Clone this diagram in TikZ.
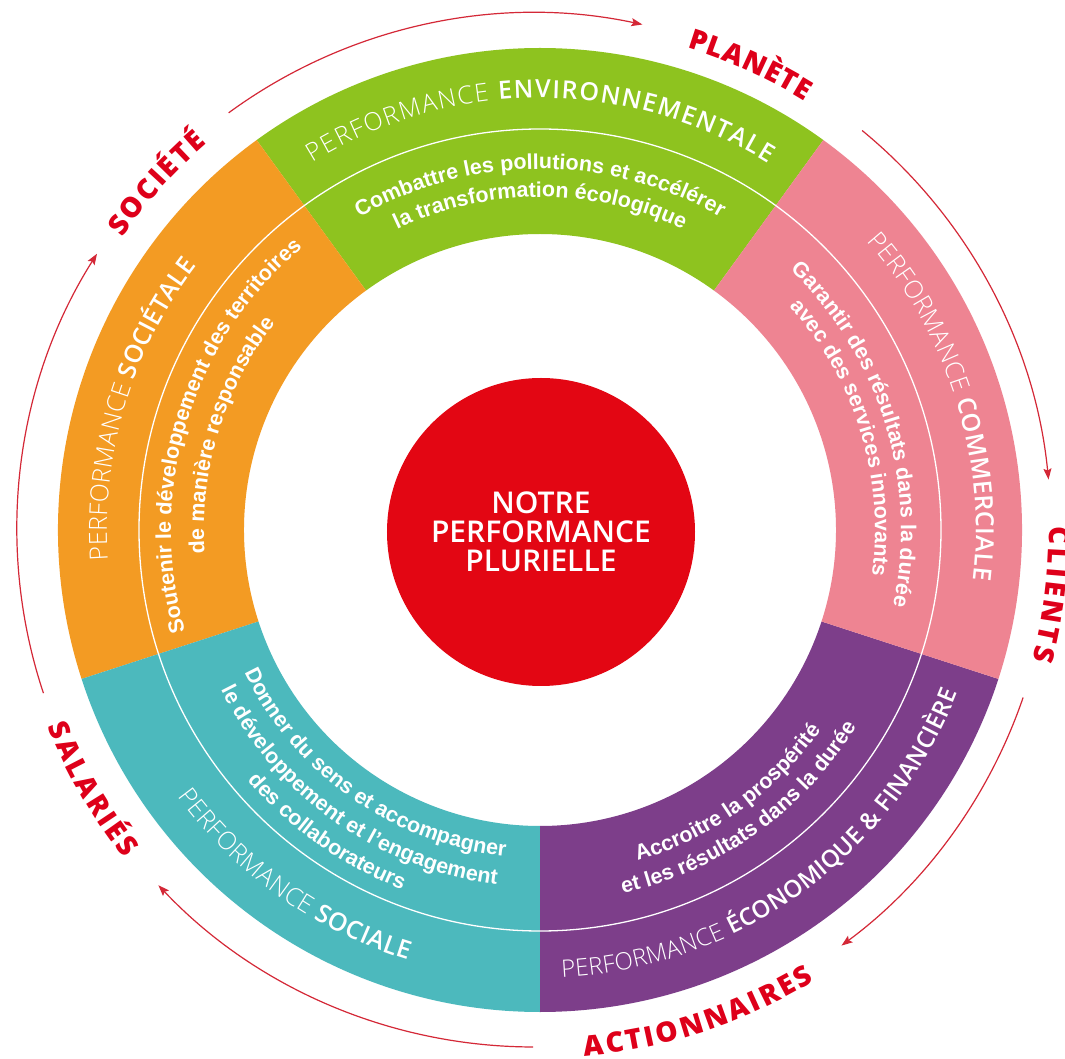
\documentclass[tikz,border=0pt]{standalone}
\usepackage{fontspec}
\setmainfont{Liberation Sans}
\newfontfamily\lightf{Open Sans Light}
\newfontfamily\semif{Open Sans Semibold}
\newfontfamily\labf{Open Sans Extrabold}
\usetikzlibrary{decorations.text,arrows.meta}
\definecolor{segGreen}{RGB}{142,195,31}
\definecolor{segOrange}{RGB}{243,155,35}
\definecolor{segPink}{RGB}{238,132,146}
\definecolor{segPurple}{RGB}{125,62,138}
\definecolor{segTeal}{RGB}{76,185,189}
\definecolor{coreRed}{RGB}{227,6,19}
\definecolor{labRed}{RGB}{222,0,26}
\definecolor{arrRed}{RGB}{212,40,55}
\newcommand\TL{\color{white}\lightf\fontsize{25}{25}\selectfont}
\newcommand\TB{\color{white}\semif\fontsize{25}{25}\selectfont}
\newcommand\TLs{\color{white}\lightf\fontsize{24}{24}\selectfont}
\newcommand\TBs{\color{white}\semif\fontsize{24}{24}\selectfont}
\newcommand\DS{\color{white}\bfseries\fontsize{21.5}{21.5}\selectfont}
\newcommand\LB{\color{labRed}\labf\fontsize{28}{28}\selectfont}
\newcommand\ringsector[3]{\fill[#1] (#2:482pt) arc[start angle=#2,end angle=#3,radius=482pt] -- (#3:296pt) arc[start angle=#3,end angle=#2,radius=296pt] -- cycle;}
\newcommand\arctext[5]{\path[decorate,decoration={text along path,text align={#4},text={#5}}] (#2:#1pt) arc[start angle=#2,end angle=#3,radius=#1pt];}
\tikzset{
  flowarc/.style={draw=arrRed, line width=1.2pt, -{Stealth[length=11pt,width=8pt,inset=2pt]}},
  corenode/.style={circle, fill=coreRed, minimum size=308pt, inner sep=0pt, text=white, align=center, font={\semif\fontsize{30}{29}\selectfont}},
  midline/.style={draw=white, line width=1.3pt}
}
\begin{document}
\begin{tikzpicture}[x=1pt,y=1pt]
\useasboundingbox (-540,-529) rectangle (525,530);
\fill[white] (-540,-529) rectangle (525,530);
% ring segments
\ringsector{segGreen}{54}{126}
\ringsector{segOrange}{126}{198}
\ringsector{segTeal}{198}{270}
\ringsector{segPurple}{270}{342}
\ringsector{segPink}{342}{414}
\draw[midline] (0,0) circle[radius=401pt];
% titles
\arctext{432}{121.7}{58.1}{fit to path}{|\TL|PERFORMANCE |\TB|ENVIRONNEMENTALE}
\arctext{433}{184}{142.4}{fit to path}{|\TL|PERFORMANCE |\TB|SOCIÉTALE}
\arctext{436}{41.5}{-6.6}{fit to path}{|\TL|PERFORMANCE |\TB|COMMERCIALE}
\arctext{448}{-87.2}{-21.3}{fit to path}{|\TLs|PERFORMANCE |\TBs|ÉCONOMIQUE {\&} FINANCIÈRE}
\arctext{450}{216.3}{252.9}{fit to path}{|\TL|PERFORMANCE |\TB|SOCIALE}
% descriptions
\arctext{361}{126}{54}{center}{|\DS|Combattre les pollutions et accélérer}
\arctext{333}{126}{54}{center}{|\DS|la transformation écologique}
\arctext{369}{199}{127}{center}{|\DS|Soutenir le développement des territoires}
\arctext{336}{199}{127}{center}{|\DS|de manière responsable}
\arctext{361}{53}{-19}{center}{|\DS|Garantir des résultats dans la durée}
\arctext{335}{53}{-19}{center}{|\DS|avec des services innovants}
\arctext{345}{-90.5}{-18.5}{center}{|\DS|Accroitre la prospérité}
\arctext{373}{-90.5}{-18.5}{center}{|\DS|et les résultats dans la durée}
\arctext{328}{198.8}{270.8}{center}{|\DS|Donner du sens et accompagner}
\arctext{357}{198.8}{270.8}{center}{|\DS|le développement et l’engagement}
\arctext{385}{198.8}{270.8}{center}{|\DS|des collaborateurs}
% centre
\node[corenode] (core) at (1,-2) {NOTRE\\PERFORMANCE\\PLURIELLE};
% outer labels
\arctext{510}{145}{130.7}{fit to path}{|\LB|SOCIÉTÉ}
\arctext{504}{73}{58.3}{fit to path}{|\LB|PLANÈTE}
\arctext{509}{0.4}{-14.8}{fit to path}{|\LB|CLIENTS}
\arctext{528}{-85.2}{-58.7}{fit to path}{|\LB|ACTIONNAIRES}
\arctext{530}{201.8}{218.3}{fit to path}{|\LB|SALARIÉS}
% outer arrows
\begin{scope}[shift={(-6,0)}]
\coordinate (a1) at (126.2:517pt);
\coordinate (a2) at (50.6:517pt);
\coordinate (a3) at (-18.9:517pt);
\coordinate (a4) at (-90.1:517pt);
\coordinate (a5) at (198.4:517pt);
\draw[flowarc] (a1) arc[start angle=126.2,end angle=77.9,radius=517pt];
\draw[flowarc] (a2) arc[start angle=50.6,end angle=5.6,radius=517pt];
\draw[flowarc] (a3) arc[start angle=-18.9,end angle=-53.5,radius=517pt];
\draw[flowarc] (a4) arc[start angle=-90.1,end angle=-136.6,radius=517pt];
\draw[flowarc] (a5) arc[start angle=198.4,end angle=147.7,radius=517pt];
\end{scope}
\end{tikzpicture}
\end{document}
